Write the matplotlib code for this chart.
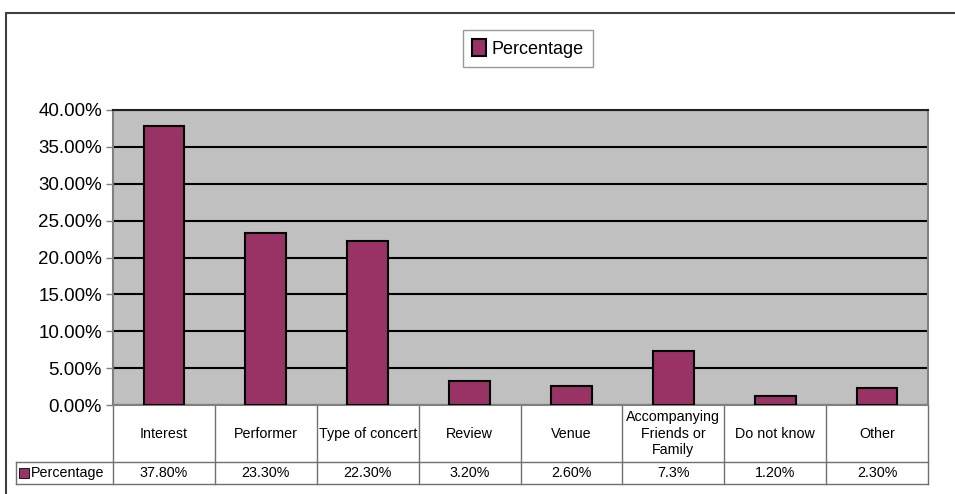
import matplotlib.pyplot as plt
from matplotlib.patches import Rectangle
from matplotlib.lines import Line2D
import matplotlib.transforms as mtransforms

plt.rcParams['font.family'] = ['Liberation Sans', 'DejaVu Sans']

categories = ['Interest', 'Performer', 'Type of concert', 'Review', 'Venue',
              'Accompanying\nFriends or\nFamily', 'Do not know', 'Other']
values = [37.8, 23.3, 22.3, 3.2, 2.6, 7.3, 1.2, 2.3]
value_labels = ['37.80%', '23.30%', '22.30%', '3.20%', '2.60%', '7.3%', '1.20%', '2.30%']
series_name = 'Percentage'
yticks = [0, 5, 10, 15, 20, 25, 30, 35, 40]

bar_color = '#993366'
W, H = 955, 494

fig = plt.figure(figsize=(W / 100, H / 100), dpi=100)
ax = fig.add_axes([113 / W, 1 - 405 / H, 815 / W, 295 / H])
ax.set_facecolor('#C0C0C0')

x = list(range(len(categories)))
bars = ax.bar(x, values, width=0.4, color=bar_color, edgecolor='black',
              linewidth=1.5, zorder=3, label=series_name)

ax.set_xlim(-0.5, len(categories) - 0.5)
ax.set_ylim(0, 40)
ax.set_yticks(yticks)
ax.set_yticklabels(['%.2f%%' % v for v in yticks], fontsize=13.5)
ax.yaxis.grid(True, color='black', linewidth=1.5, zorder=1)
ax.set_axisbelow(True)
ax.set_xticks([])
ax.tick_params(axis='y', length=5, width=1, color='#808080', pad=3)
for s in ax.spines.values():
    s.set_color('#808080')
    s.set_linewidth(1.5)
ax.spines['top'].set_color('#202020')

# data table under the chart
trans = mtransforms.blended_transform_factory(ax.transData, ax.transAxes)
y_mid = -(462 - 405) / 295
y_bot = -(484 - 405) / 295
line_kw = dict(color='#707070', linewidth=1, transform=trans, clip_on=False)
left_edge = -0.5 - 97 / (815 / len(categories))
for i in range(len(categories) + 1):
    ax.add_line(Line2D([i - 0.5, i - 0.5], [0, y_bot], **line_kw))
ax.add_line(Line2D([left_edge, len(categories) - 0.5], [y_mid, y_mid], **line_kw))
ax.add_line(Line2D([left_edge, len(categories) - 0.5], [y_bot, y_bot], **line_kw))
ax.add_line(Line2D([left_edge, left_edge], [y_mid, y_bot], **line_kw))

for i, (c, v) in enumerate(zip(categories, value_labels)):
    ax.text(i, y_mid / 2, c, transform=trans, ha='center', va='center',
            fontsize=10.3, linespacing=1.2)
    ax.text(i, (y_mid + y_bot) / 2, v, transform=trans, ha='center',
            va='center', fontsize=10.3)

# row label with colour key
ax.add_patch(Rectangle((left_edge + 0.03, (y_mid + y_bot) / 2 - 0.017), 0.1, 0.034,
                       facecolor=bar_color, edgecolor='black', linewidth=0.6,
                       transform=trans, clip_on=False))
ax.text(left_edge + 0.15, (y_mid + y_bot) / 2, series_name, transform=trans,
        ha='left', va='center', fontsize=10.3)

# legend
leg = fig.legend(handles=[bars], labels=[series_name], loc='center',
                 bbox_to_anchor=(528 / W, 1 - 48.5 / H), fontsize=13,
                 frameon=True, fancybox=False, edgecolor='#808080',
                 handlelength=0.8, handleheight=1.0, handletextpad=0.3,
                 borderpad=0.5)
leg.get_frame().set_linewidth(1)

# outer chart border (cut off at right/bottom)
fig.add_artist(Rectangle((6 / W, -0.05), 1.1, 1 - 13 / H + 0.05,
                         transform=fig.transFigure, fill=False,
                         edgecolor='#404040', linewidth=1.5))

fig.savefig('out.png', dpi=100)
